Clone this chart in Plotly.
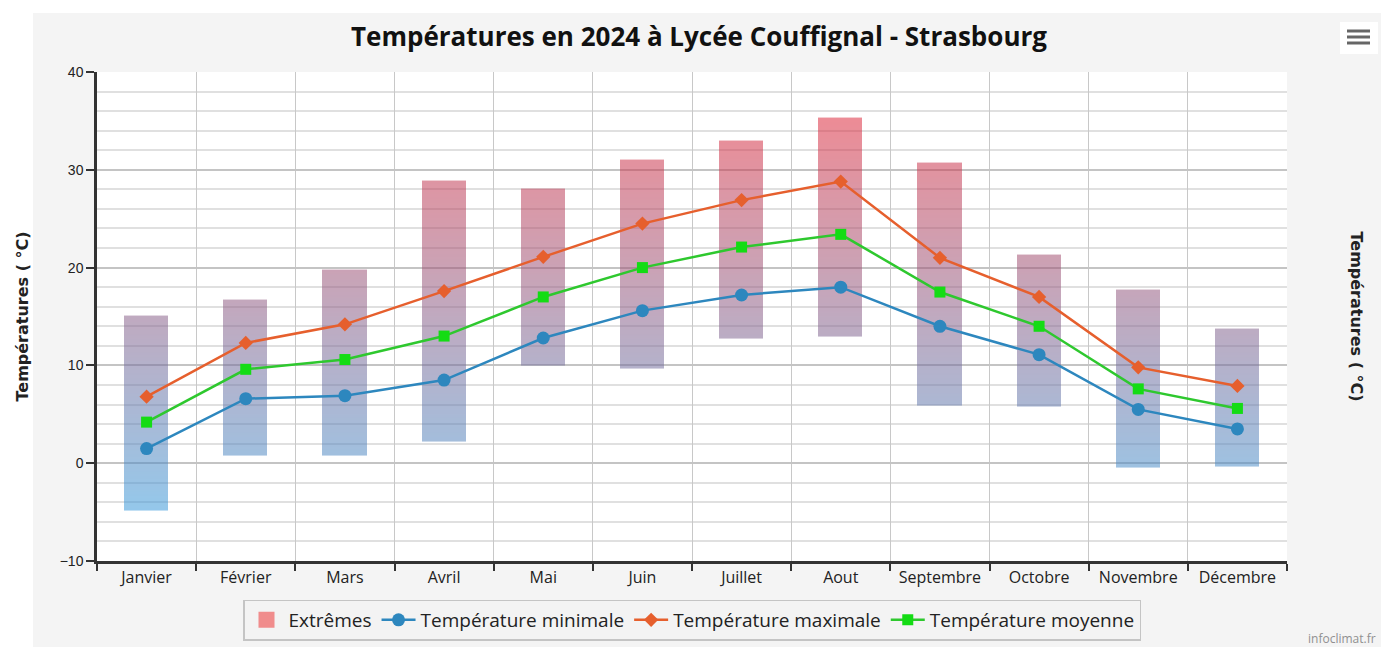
import numpy as np
import plotly.graph_objects as go

months = ["Janvier", "Février", "Mars", "Avril", "Mai", "Juin", "Juillet",
          "Aout", "Septembre", "Octobre", "Novembre", "Décembre"]
temp_min = [1.5, 6.6, 6.9, 8.5, 12.8, 15.6, 17.2, 18.0, 14.0, 11.1, 5.5, 3.5]
temp_max = [6.8, 12.3, 14.2, 17.6, 21.1, 24.5, 26.9, 28.8, 21.0, 17.0, 9.8, 7.9]
temp_avg = [4.2, 9.6, 10.6, 13.0, 17.0, 20.0, 22.1, 23.4, 17.5, 14.0, 7.6, 5.6]
ext_low = [-4.8, 0.8, 0.8, 2.3, 10.0, 9.7, 12.8, 13.0, 6.0, 5.8, -0.4, -0.3]
ext_high = [15.1, 16.7, 19.8, 28.9, 28.0, 31.0, 32.9, 35.3, 30.7, 21.3, 17.7, 13.7]

FONT = "Open Sans"

# extremes drawn as a vertical gradient (value -> colour) on a fine value grid
levels = np.round(np.arange(-10, 40.0001, 0.1), 2)
z = [[float(v) if lo <= v <= hi else None for lo, hi in zip(ext_low, ext_high)]
     for v in levels]

fig = go.Figure()

fig.add_trace(go.Scatter(x=[None], y=[None], name="Extrêmes", mode="markers",
                         marker=dict(symbol="square", size=20, color="#f08c8c"),
                         showlegend=True))
fig.add_trace(go.Heatmap(x=months, y=levels, z=z, zmin=-5, zmax=35,
                         colorscale=[[0, "rgb(60,155,219)"], [0.5, "rgb(140,100,140)"],
                                     [1, "rgb(220,46,64)"]],
                         opacity=0.55, showscale=False, xgap=55, ygap=0,
                         hoverinfo="skip", name="Extrêmes"))
fig.add_trace(go.Scatter(x=months, y=temp_min, name="Température minimale",
                         mode="lines+markers",
                         line=dict(color="#2d87be", width=2.5),
                         marker=dict(symbol="circle", size=13, color="#2d87be")))
fig.add_trace(go.Scatter(x=months, y=temp_max, name="Température maximale",
                         mode="lines+markers",
                         line=dict(color="#e65f2d", width=2.5),
                         marker=dict(symbol="diamond", size=11, color="#e65f2d")))
fig.add_trace(go.Scatter(x=months, y=temp_avg, name="Température moyenne",
                         mode="lines+markers",
                         line=dict(color="#2ec82e", width=2.5),
                         marker=dict(symbol="square", size=11, color="#14dc14")))

OFF = 8  # browser body margin
W, H = 1382, 639
P_LEFT, P_RIGHT, P_TOP, P_BOTTOM = 97, 1287, 72, 561  # plot area on the page
L = P_LEFT - OFF
R = W - (P_RIGHT - OFF)
T = P_TOP - OFF
B = H - (P_BOTTOM - OFF)
pw, ph = P_RIGHT - P_LEFT, P_BOTTOM - P_TOP


def px(x):
    return (x - P_LEFT) / pw


def py(y):
    return (P_BOTTOM - y) / ph


fig.update_layout(
    width=W, height=H,
    margin=dict(l=L, r=R, t=T, b=B, autoexpand=False),
    paper_bgcolor="#f4f4f4",
    plot_bgcolor="#ffffff",
    title=dict(text="<b>Températures en 2024 à Lycée Couffignal - Strasbourg</b>",
               x=0.5, xanchor="center", y=1 - (37 - OFF) / H, yanchor="middle",
               font=dict(family=FONT, size=26, color="#111111")),
    font=dict(family=FONT, color="#222222"),
    showlegend=True,
    legend=dict(orientation="h", x=0.5, xanchor="center",
                y=py(620), yanchor="middle",
                bgcolor="#f3f3f3", bordercolor="#c4c4c4", borderwidth=1.5,
                font=dict(family=FONT, size=19, color="#222222"),
                traceorder="normal", itemwidth=34),
    xaxis=dict(type="category", range=[-0.5, 11.5], tickson="boundaries",
               automargin=False,
               showgrid=True, gridcolor="#c8c8c8", gridwidth=1.2,
               ticks="outside", ticklen=7, tickwidth=2, tickcolor="#333333",
               showline=True, linecolor="#333333", linewidth=2.5,
               tickfont=dict(family=FONT, size=16, color="#222222")),
    yaxis=dict(range=[-10, 40], dtick=10, showgrid=True, gridcolor="#c4c4c4",
               gridwidth=2, zeroline=False, automargin=False,
               minor=dict(dtick=2, showgrid=True, gridcolor="#e0e0e0", gridwidth=1.5),
               ticks="outside", ticklen=8, tickwidth=1.5, tickcolor="#333333",
               showline=True, linecolor="#333333", linewidth=2.5,
               tickfont=dict(family="Liberation Sans", size=14, color="#222222")),
    yaxis2=dict(range=[-10, 40], dtick=10, overlaying="y", side="right",
                showgrid=False, zeroline=False, automargin=False,
                ticks="outside", ticklen=8, tickwidth=1.5, tickcolor="#333333",
                showline=True, linecolor="#333333", linewidth=2.5,
                tickfont=dict(family="Liberation Sans", size=14, color="#222222")),
    annotations=[
        dict(text="<b>Températures ( °C)</b>", xref="paper", yref="paper",
             x=px(22), y=0.5, textangle=-90, showarrow=False,
             xanchor="center", yanchor="middle",
             font=dict(family="DejaVu Sans", size=16, color="#222222")),
        dict(text="<b>Températures ( °C)</b>", xref="paper", yref="paper",
             x=px(1356), y=0.5, textangle=90, showarrow=False,
             xanchor="center", yanchor="middle",
             font=dict(family="DejaVu Sans", size=16, color="#222222")),
        dict(text="infoclimat.fr", xref="paper", yref="paper",
             x=px(1378), y=py(638), xanchor="right", yanchor="middle",
             showarrow=False, font=dict(family=FONT, size=12, color="#909090")),
    ],
    shapes=[
        # white page margins around the chart container
        dict(type="rect", xref="paper", yref="paper",
             x0=px(0), x1=px(33), y0=py(700), y1=py(0),
             fillcolor="#ffffff", line=dict(width=0), layer="below"),
        dict(type="rect", xref="paper", yref="paper",
             x0=px(0), x1=px(1400), y0=py(13), y1=py(0),
             fillcolor="#ffffff", line=dict(width=0), layer="below"),
        dict(type="rect", xref="paper", yref="paper",
             x0=px(1381), x1=px(1400), y0=py(700), y1=py(0),
             fillcolor="#ffffff", line=dict(width=0), layer="below"),
        dict(type="rect", xref="paper", yref="paper",
             x0=px(1340), x1=px(1378), y0=py(22), y1=py(54),
             fillcolor="#ffffff", line=dict(width=0), layer="below"),
    ] + [
        dict(type="line", xref="paper", yref="paper",
             x0=px(1347), x1=px(1370), y0=py(yy), y1=py(yy),
             line=dict(color="#666666", width=3))
        for yy in (31, 37, 43)
    ],
)

fig.write_html("out.html")
